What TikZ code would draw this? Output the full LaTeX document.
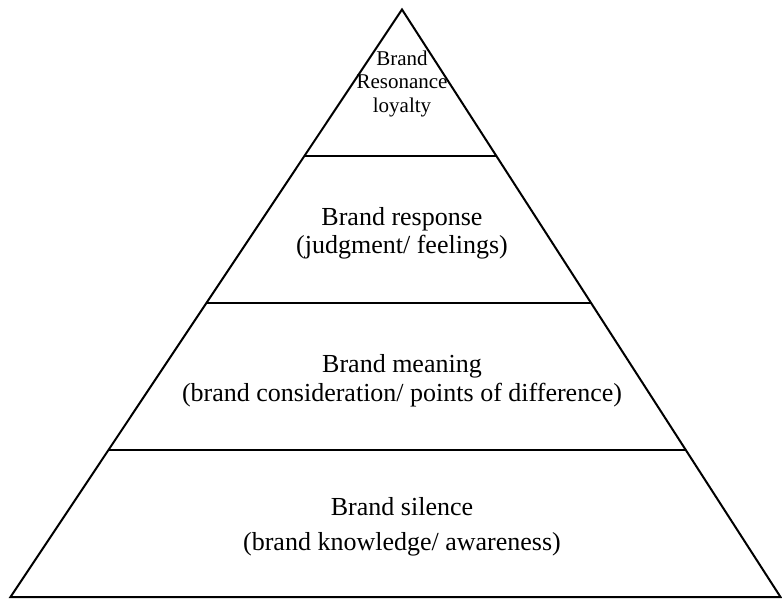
\documentclass[tikz,border=0pt]{standalone}
\usepackage{fontspec}
\setmainfont{Liberation Serif}
\usetikzlibrary{calc}

\begin{document}
\begin{tikzpicture}[x=1pt, y=-1pt, line width=2pt, line join=miter,
  tier/.style={font=\fontsize{26}{30}\selectfont, anchor=base, inner sep=0pt},
  peak/.style={font=\fontsize{21}{24}\selectfont, anchor=base, inner sep=0pt}]
\useasboundingbox (0,0) rectangle (782,599);
\coordinate (apex) at (402,9.5);
\coordinate (bl) at (10.5,597);
\coordinate (br) at (780.5,597);
% outline and the three dividers
\draw (apex) -- (bl) -- (br) -- cycle;
\foreach \t in {0.25,0.5,0.75}
  \draw ($(apex)!\t!(bl)$) -- ($(apex)!\t!(br)$);
% top tier
\node[peak] (r1) at (402,65.5) {Brand};
\node[peak] (r2) at (402,89) {Resonance};
\node[peak] (r3) at (402,112.5) {loyalty};
% lower tiers
\node[tier] (p1) at (402,225) {Brand response};
\node[tier] (p2) at (402,253.5) {(judgment/ feelings)};
\node[tier] (m1) at (402,372) {Brand meaning};
\node[tier] (m2) at (402,401.5) {(brand consideration/ points of difference)};
\node[tier] (s1) at (402,515) {Brand silence};
\node[tier] (s2) at (402,550) {(brand knowledge/ awareness)};
\end{tikzpicture}
\end{document}
